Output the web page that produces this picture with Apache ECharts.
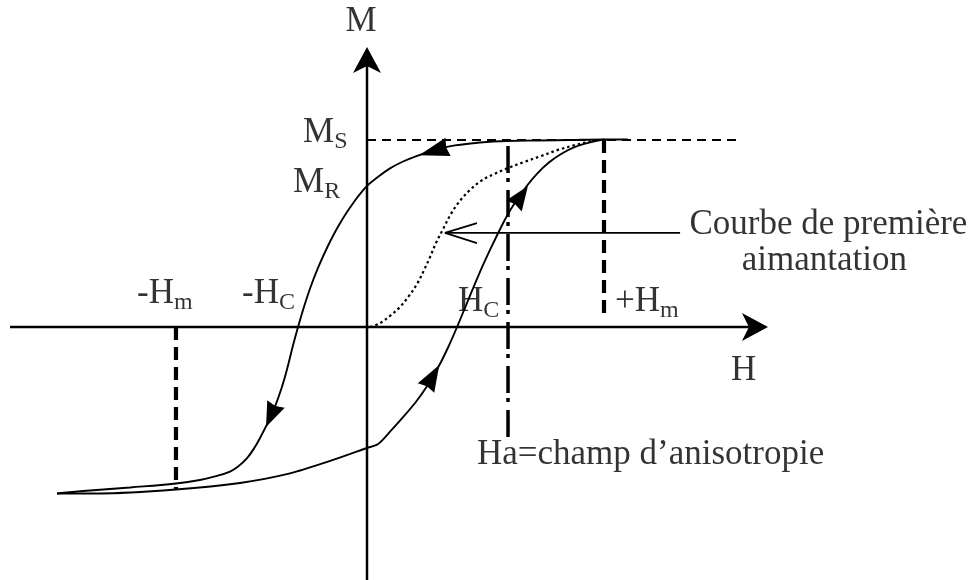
<!DOCTYPE html>
<html>
<head>
<meta charset="utf-8">
<script src="https://cdn.jsdelivr.net/npm/echarts@6/dist/echarts.min.js"></script>
<style>
  html, body { margin: 0; padding: 0; background: #fff; }
  #chart { width: 971px; height: 580px; }
</style>
</head>
<body>
<div id="chart"></div>
<script>
// Hysteresis loop M(H). H is expressed in units of +Hm, M in units of Ms.

// Descending branch: from +Hm saturation back down to -Hm
const descendingBranch = [
  [1.101, 1.003], [1.000, 1.003], [0.857, 1.000], [0.730, 0.997], [0.591, 0.995],
  [0.477, 0.987], [0.371, 0.971], [0.287, 0.947], [0.215, 0.917], [0.152, 0.885],
  [0.097, 0.848], [0.046, 0.802], [-0.004, 0.749], [-0.070, 0.642], [-0.123, 0.535],
  [-0.167, 0.428], [-0.205, 0.321], [-0.238, 0.214], [-0.266, 0.107], [-0.291, 0.000],
  [-0.314, -0.107], [-0.335, -0.214], [-0.359, -0.321], [-0.389, -0.428], [-0.419, -0.513],
  [-0.447, -0.583], [-0.473, -0.642], [-0.506, -0.701], [-0.544, -0.746], [-0.578, -0.773],
  [-0.641, -0.799], [-0.705, -0.818], [-0.806, -0.837], [-1.000, -0.858], [-1.169, -0.874],
  [-1.308, -0.890]
];

// Ascending branch: from -Hm back up to +Hm
const ascendingBranch = [
  [-1.308, -0.890], [-1.127, -0.890], [-0.806, -0.869], [-0.536, -0.834], [-0.325, -0.783],
  [-0.143, -0.711], [0.000, -0.647], [0.047, -0.626], [0.100, -0.556], [0.153, -0.481],
  [0.206, -0.401], [0.251, -0.321], [0.301, -0.214], [0.343, -0.107], [0.380, 0.000],
  [0.415, 0.107], [0.450, 0.214], [0.486, 0.321], [0.525, 0.428], [0.566, 0.535],
  [0.600, 0.615], [0.635, 0.684], [0.674, 0.754], [0.716, 0.818], [0.765, 0.877],
  [0.819, 0.925], [0.878, 0.963], [0.942, 0.987], [1.000, 1.003]
];

// Initial (virgin) magnetization curve
const firstMagnetization = [
  [0.013, 0.000], [0.055, 0.021], [0.097, 0.059], [0.139, 0.107], [0.177, 0.166],
  [0.211, 0.230], [0.241, 0.305], [0.266, 0.374], [0.291, 0.449], [0.321, 0.524],
  [0.354, 0.604], [0.388, 0.668], [0.430, 0.727], [0.481, 0.781], [0.536, 0.818],
  [0.595, 0.850], [0.662, 0.882], [0.734, 0.914], [0.806, 0.947], [0.878, 0.973],
  [0.941, 0.992], [0.983, 1.000]
];

// Characteristic values
const saturationM = 1.0;        // Ms
const maxFieldH = 1.0;          // +Hm
const minFieldH = -0.806;       // -Hm
const minFieldM = -0.869;       // M reached at -Hm on the ascending branch
const anisotropyFieldH = 0.595; // Ha

// Direction arrows on the loop: [tipH, tipM, backH, backM]
const loopArrows = [
  [0.220, 0.919, 0.342, 0.963],
  [-0.426, -0.535, -0.384, -0.412],
  [0.305, -0.203, 0.249, -0.326],
  [0.679, 0.754, 0.620, 0.647]
];

// Annotation texts: [main, subscript]
const annotationTexts = [
  ['M', ''], ['H', ''], ['M', 'S'], ['M', 'R'], ['-H', 'm'], ['-H', 'C'],
  ['H', 'C'], ['+H', 'm'], ['Ha=champ d\u2019anisotropie', ''],
  ['Courbe de premi\u00e8re', ''], ['aimantation', '']
];

// ---- layout (data units) ----
const axisExtent = { hMin: -1.511, hMax: 1.692, mMin: -1.353, mMax: 1.497 };
const msGuideEnd = 1.574;
const hmGuideBottom = 0.037;
const haGuideBottom = -0.588;
const pointer = { from: [1.321, 0.503], tip: [0.329, 0.503], barbH: 0.464, barbUp: 0.556, barbDown: 0.449 };
const annotationAnchors = [
  [[-0.025, 1.631], 'center'], [[1.589, -0.235], 'center'], [[-0.270, 1.040], 'left'],
  [[-0.312, 0.770], 'left'], [[-0.970, 0.176], 'left'], [[-0.527, 0.176], 'left'],
  [[0.384, 0.136], 'left'], [[1.046, 0.136], 'left'], [[0.464, -0.684], 'left'],
  [[1.947, 0.545], 'center'], [[1.930, 0.356], 'center']
];

const INK = '#000';
const FONT = "'Liberation Serif', 'Times New Roman', serif";

function line(data, lineStyle, extra) {
  return Object.assign({
    type: 'line', data, symbol: 'none', clip: false, silent: true,
    animation: false, lineStyle: Object.assign({ color: INK }, lineStyle)
  }, extra || {});
}

function arrowHeads(data, halfWidth, notch) {
  return {
    type: 'custom', data, clip: false, silent: true, animation: false,
    renderItem: function (params, api) {
      const tip = api.coord([api.value(0), api.value(1)]);
      const back = api.coord([api.value(2), api.value(3)]);
      const dx = tip[0] - back[0], dy = tip[1] - back[1];
      const len = Math.hypot(dx, dy);
      const ux = dx / len, uy = dy / len;
      const px = -uy, py = ux;
      return {
        type: 'polygon',
        shape: {
          points: [
            tip,
            [back[0] + px * halfWidth, back[1] + py * halfWidth],
            [back[0] + ux * notch, back[1] + uy * notch],
            [back[0] - px * halfWidth, back[1] - py * halfWidth]
          ]
        },
        style: { fill: INK }
      };
    }
  };
}

const labelData = annotationTexts.map(function (t, i) {
  const main = '{b|' + t[0] + '}';
  const sub = t[1] ? '{s|' + t[1] + '}' : '';
  return {
    value: annotationAnchors[i][0],
    label: { formatter: main + sub, align: annotationAnchors[i][1] }
  };
});

const chart = echarts.init(document.getElementById('chart'), null, { renderer: 'canvas' });
chart.setOption({
  backgroundColor: '#fff',
  animation: false,
  grid: { left: 11.5, right: 11.5, top: 9.1, bottom: 9.9 },
  xAxis: { type: 'value', min: -1.5, max: 2.5, show: false },
  yAxis: { type: 'value', min: -1.3, max: 1.7, show: false },
  series: [
    // axes
    line([[axisExtent.hMin, 0], [axisExtent.hMax - 0.02, 0]], { width: 2.5 }),
    line([[0, axisExtent.mMin], [0, axisExtent.mMax - 0.03]], { width: 2.5 }),
    arrowHeads([[axisExtent.hMax, 0, 1.582, 0], [0, axisExtent.mMax, 0, 1.358]], 14, 7),
    // guide lines
    line([[0, saturationM], [msGuideEnd, saturationM]], { width: 2.2, type: [9, 6] }),
    line([[maxFieldH, saturationM], [maxFieldH, hmGuideBottom]], { width: 4.2, type: [13, 7] }),
    line([[minFieldH, 0], [minFieldH, minFieldM]], { width: 4.2, type: [13, 7] }),
    line([[anisotropyFieldH, saturationM], [anisotropyFieldH, haGuideBottom]],
      { width: 3.5, type: [27, 5, 4, 8], dashOffset: 38 }),
    // loop and first magnetization curve
    line(firstMagnetization, { width: 2.2, type: [2.5, 3] }, { smooth: 0.35 }),
    line(descendingBranch, { width: 1.9 }, { smooth: 0.4 }),
    line(ascendingBranch, { width: 1.9 }, { smooth: 0.25 }),
    arrowHeads(loopArrows, 9.5, 2),
    // pointer towards the first magnetization curve
    line([pointer.from, pointer.tip], { width: 1.8 }),
    line([[pointer.barbH, pointer.barbUp], pointer.tip, [pointer.barbH, pointer.barbDown]], { width: 1.8 }),
    // text annotations
    {
      type: 'scatter', data: labelData, symbol: 'circle', symbolSize: 1,
      itemStyle: { color: 'transparent' }, silent: true, animation: false, clip: false,
      label: {
        show: true, position: 'inside', verticalAlign: 'middle', color: INK,
        rich: {
          b: { fontFamily: FONT, fontSize: 35, color: INK },
          s: { fontFamily: FONT, fontSize: 24, color: INK, padding: [18, 0, 0, 0] }
        }
      }
    }
  ]
});
</script>
</body>
</html>
